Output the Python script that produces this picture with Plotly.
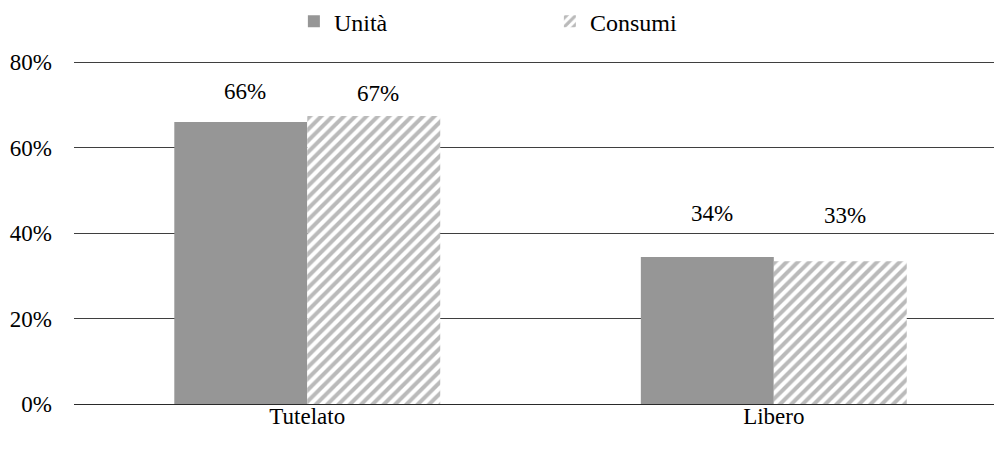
import plotly.graph_objects as go

categories = ["Tutelato", "Libero"]
unita = [0.660, 0.344]
consumi = [0.674, 0.334]
series_names = ["Unità", "Consumi"]
y_ticks = [0, 0.2, 0.4, 0.6, 0.8]
y_tick_labels = ["0%", "20%", "40%", "60%", "80%"]

# label offsets above bar tops (px), style only
label_yshift = {"Unità": [31, 44], "Consumi": [23, 46]}

FONT = "Liberation Serif"
FS = 23
GRAY = "#969696"

fig = go.Figure()
fig.add_trace(go.Bar(
    x=categories, y=unita, name=series_names[0],
    marker=dict(color=GRAY, line=dict(width=0)),
))
fig.add_trace(go.Bar(
    x=categories, y=consumi, name=series_names[1],
    marker=dict(color="white", line=dict(width=0),
                pattern=dict(shape="/", fgcolor="#767676", bgcolor="white",
                             size=8, solidity=0.5)),
))

for name, vals, xs in ((series_names[0], unita, -62), (series_names[1], consumi, 71)):
    for i, (c, v) in enumerate(zip(categories, vals)):
        fig.add_annotation(x=c, y=v, xshift=xs, yshift=label_yshift[name][i],
                           text=f"{round(v*100):.0f}%", showarrow=False,
                           font=dict(family=FONT, size=FS, color="black"))

fig.update_layout(
    width=994, height=449,
    margin=dict(l=74, r=0, t=58, b=45, autoexpand=False),
    paper_bgcolor="white", plot_bgcolor="white",
    font=dict(family=FONT, size=FS, color="black"),
    barmode="group", bargap=0.43, bargroupgap=0,
    showlegend=True,
    legend=dict(orientation="h", x=0.239, xanchor="left", y=1.105, yanchor="middle",
                font=dict(family=FONT, size=24), itemwidth=30,
                entrywidthmode="pixels", entrywidth=211,
                bgcolor="rgba(0,0,0,0)"),
    xaxis=dict(range=[-0.5, 1.472], showgrid=False, showline=False, ticks="",
               automargin=False, ticklabelstandoff=-4),
    yaxis=dict(range=[0, 0.81], tickvals=y_ticks, ticktext=y_tick_labels,
               showgrid=True, gridcolor="#3f3f3f", gridwidth=1,
               zeroline=True, zerolinecolor="#2a2a2a", zerolinewidth=1,
               showline=False, ticks="", ticklabelstandoff=21, automargin=False),
)

fig.write_html("out.html", config={"displayModeBar": False},
               post_script="document.body.style.margin='0';")
